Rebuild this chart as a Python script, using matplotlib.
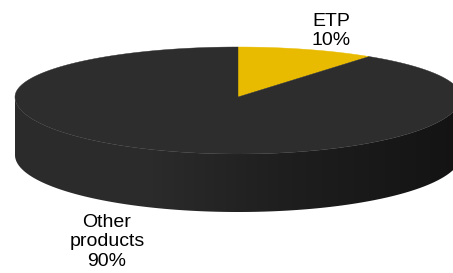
"""
3D pie: ETP share of products
"""
import numpy as np
import matplotlib.pyplot as plt
from matplotlib.patches import Polygon

plt.rcParams['font.family'] = ['Liberation Sans', 'DejaVu Sans']

# data
labels = ['ETP', 'Other\nproducts']
shares = [10, 90]
colors = ['#e9bb00', '#2d2d2d']
label_pos = [(331, 31), (107, 242)]

# geometry of the pie in pixel space (back half flatter: perspective)
cx, cy = 238, 97
rx = 223
ry_back, ry_front = 50, 57
depth = 58


def rim(t0, t1, n=300, dy=0):
    t = np.radians(np.linspace(t0, t1, n))
    s = np.sin(t)
    ry = np.where(s > 0, ry_back, ry_front)
    return cx + rx * np.cos(t), cy - ry * s + dy


fig = plt.figure(figsize=(4.53, 2.73), dpi=100)
ax = fig.add_axes([0, 0, 1, 1])
ax.set_xlim(0, 453)
ax.set_ylim(273, 0)
ax.axis('off')

# side wall (front half), shaded left to right
xt, yt = rim(180, 360)
xb, yb = rim(360, 180, dy=depth)
side = Polygon(np.column_stack([np.r_[xt, xb], np.r_[yt, yb]]),
               closed=True, facecolor='none', edgecolor='none')
ax.add_patch(side)
grad = np.interp(np.linspace(0, 1, 400), [0, 0.3, 0.6, 1], [0.17, 0.17, 0.12, 0.075])
img = np.repeat(grad[None, :, None], 3, axis=2)
im = ax.imshow(img, extent=(cx - rx, cx + rx, cy + ry_front + depth, cy - ry_back),
               aspect='auto', interpolation='bilinear', zorder=1)
im.set_clip_path(side)

# top surface slices, clockwise from 12 o'clock
start = 90.0
for share, col in zip(shares, colors):
    sweep = 360.0 * share / sum(shares)
    x, y = rim(start, start - sweep)
    poly = Polygon(np.column_stack([np.r_[cx, x], np.r_[cy, y]]), closed=True,
                   facecolor=col, edgecolor=col, linewidth=0.3, zorder=2)
    ax.add_patch(poly)
    start -= sweep

# labels
for lab, share, (lx, ly) in zip(labels, shares, label_pos):
    ax.text(lx, ly, f"{lab}\n{share}%", ha='center', va='center',
            fontsize=14, linespacing=1.22, color='black', zorder=3)

plt.savefig('out.png', dpi=100)
plt.close()
